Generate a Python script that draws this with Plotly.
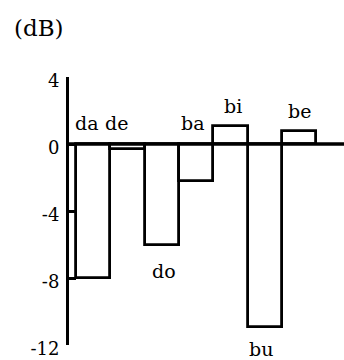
import plotly.graph_objects as go

# Data
syllables = ["da", "de", "do", "ba", "bi", "bu", "be"]
values_db = [-8.0, -0.3, -6.0, -2.2, 1.1, -10.9, 0.8]
tick_vals = [4, 0, -4, -8, -12]
tick_text = ["4", "0", "-4", "-8", "-12"]
y_title = "(dB)"

FONT = "DejaVu Serif"

# label anchoring: (anchor on bar value or zero line, xshift px, yshift px)
label_style = {
    "da": ("zero", -6, 21),
    "de": ("zero", -11, 21),
    "do": ("value", 2, -26),
    "ba": ("zero", -3, 21),
    "bi": ("value", 3, 20),
    "bu": ("value", -4, -22),
    "be": ("value", 0, 20),
}

xs = list(range(len(syllables)))

fig = go.Figure()
fig.add_trace(go.Bar(
    x=xs, y=values_db, width=1.0,
    marker=dict(color="white", line=dict(color="black", width=2.8)),
    hoverinfo="skip", showlegend=False,
))

W, H = 344, 360
ml, mr, mt, mb = 69, 0, 77, 15
pw, ph = W - ml - mr, H - mt - mb

annotations = []
for i, (s, v) in enumerate(zip(syllables, values_db)):
    anchor, dx, dy = label_style[s]
    yv = 0 if anchor == "zero" else v
    annotations.append(dict(
        x=i, y=yv, xref="x", yref="y", text=s, showarrow=False,
        xshift=dx, yshift=dy, yanchor="middle", xanchor="center",
        font=dict(family=FONT, size=19, color="black"),
    ))

annotations.append(dict(
    x=(39 - ml) / pw, y=(H - mb - 28) / ph, xref="paper", yref="paper",
    text=y_title, showarrow=False, xanchor="center", yanchor="middle",
    font=dict(family=FONT, size=23, color="black"),
))

fig.update_layout(
    width=W, height=H,
    margin=dict(l=ml, r=mr, t=mt, b=mb, pad=0),
    paper_bgcolor="white", plot_bgcolor="white",
    bargap=0,
    annotations=annotations,
    shapes=[dict(type="line", xref="paper", yref="y", x0=0, x1=1, y0=0, y1=0,
                 line=dict(color="black", width=3.5), layer="above")],
    xaxis=dict(range=[-0.704, 7.31], showticklabels=False, showgrid=False,
               zeroline=False, showline=False, ticks=""),
    yaxis=dict(range=[-12, 4], tickvals=tick_vals, ticktext=tick_text,
               showgrid=False, zeroline=False, showline=True, linecolor="black",
               linewidth=3, ticks="inside", ticklen=7, tickwidth=3, tickcolor="black",
               ticklabelstandoff=3, ticklabelshift=4, ticklabeloverflow="allow",
               tickfont=dict(family=FONT, size=18, color="black")),
)

fig.write_html(
    "out.html",
    config={"displayModeBar": False},
    post_script="document.body.style.margin='0';document.body.style.overflow='hidden';",
)
